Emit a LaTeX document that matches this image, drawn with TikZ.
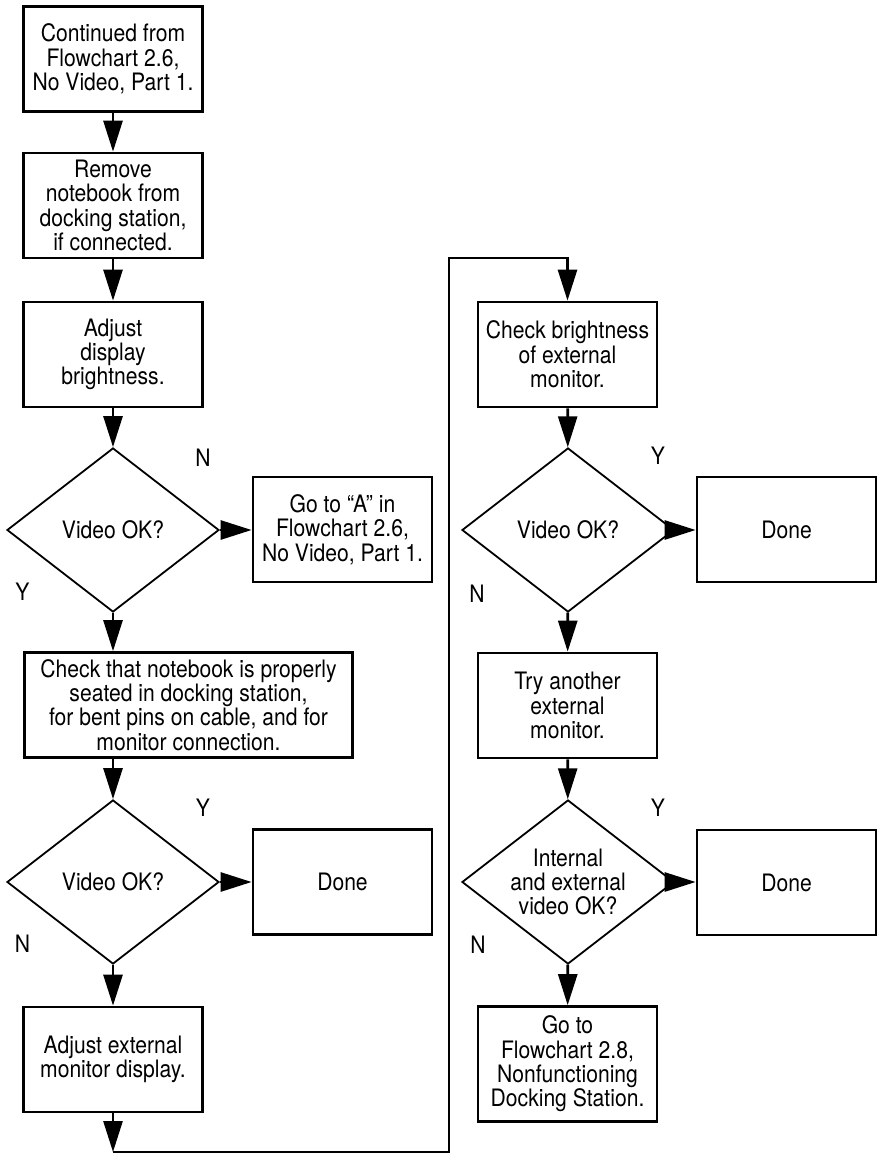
\documentclass[tikz,border=0pt]{standalone}
\usepackage{fontspec}
\setmainfont{TeX Gyre Heros}[FakeStretch=0.88]
\usetikzlibrary{arrows.meta,shapes.geometric}
\tikzset{
  txt/.style={font=\fontsize{24}{24.3}\selectfont},
  stepbox/.style={txt, draw, line width=2.7pt, align=center, inner sep=0pt, minimum width=179pt, minimum height=105pt},
  decision/.style={txt, draw, diamond, aspect=1.3, line width=1.8pt, align=center, inner sep=0pt, minimum width=212pt, minimum height=164pt},
  flow/.style={line width=2.7pt, -{Triangle[length=31pt,width=19pt]}}
}

\begin{document}
\begin{tikzpicture}[x=1pt,y=-1pt]
			%%%%% START %%%%%
			\useasboundingbox (0,0) rectangle (881,1154);
			
			% left column
			\node[stepbox] (cont) at (113,59) {Continued from\\Flowchart 2.6,\\No Video, Part 1.};
			\node[stepbox] (remove) at (113,205.5) {Remove\\notebook from\\docking station,\\if connected.};
			\node[stepbox] (adjust) at (113,354.5) {Adjust\\display\\brightness.};
			\node[decision] (dia1) at (113,530) {Video OK?};
			\node[stepbox] (goA) at (342.5,529.5) {Go to ``A'' in\\Flowchart 2.6,\\No Video, Part 1.};
			\node[stepbox, minimum width=328pt] (check) at (188.5,705) {Check that notebook is properly\\seated in docking station,\\for bent pins on cable, and for\\monitor connection.};
			\node[decision] (dia2) at (113,882) {Video OK?};
			\node[stepbox] (done1) at (342.5,882) {Done};
			\node[stepbox] (adjext) at (113,1059.5) {Adjust external\\monitor display.};
			
			% right column
			\node[stepbox] (chkbright) at (567.5,354.5) {Check brightness\\of external\\monitor.};
			\node[decision] (dia3) at (568,530) {Video OK?};
			\node[stepbox] (done2) at (786.5,529.5) {Done};
			\node[stepbox] (another) at (567.5,705.5) {Try another\\external\\monitor.};
			\node[decision] (dia4) at (568,882) {Internal\\and external\\video OK?};
			\node[stepbox] (done3) at (786.5,882.5) {Done};
			\node[stepbox, minimum height=115pt] (goto28) at (567.5,1064) {Go to\\Flowchart 2.8,\\Nonfunctioning\\Docking Station.};
			
			% Y / N labels
			\node[txt] (n1) at (203,458) {N};
			\node[txt] (y1) at (22.5,592) {Y};
			\node[txt] (y2) at (203,808) {Y};
			\node[txt] (n2) at (22.5,944) {N};
			\node[txt] (y3) at (658,456) {Y};
			\node[txt] (n3) at (477,594) {N};
			\node[txt] (y4) at (658,808) {Y};
			\node[txt] (n4) at (478,945) {N};
			
			% connectors
			\draw[flow] (cont) -- (remove);
			\draw[flow] (remove) -- (adjust);
			\draw[flow] (adjust) -- (dia1);
			\draw[flow] (dia1.east) -- (dia1.east -| goA.west);
			\draw[flow] (dia1.south) -- (dia1.south |- check.north);
			\draw[flow] (dia2.north |- check.south) -- (dia2.north);
			\draw[flow] (dia2.east) -- (dia2.east -| done1.west);
			\draw[flow] (dia2) -- (adjext);
			
			\coordinate (loopA) at (113,1152);
			\coordinate (loopB) at (449,1152);
			\coordinate (loopC) at (449,258);
			\coordinate (loopD) at (567.5,258);
			\draw[flow] (adjext) -- (loopA);
			\draw[flow] (loopA) -- (loopB) -- (loopC) -- (loopD) -- (chkbright);
			
			\draw[flow] (chkbright) -- (dia3);
			\draw[flow] (dia3.east) -- (dia3.east -| done2.west);
			\draw[flow] (dia3) -- (another);
			\draw[flow] (another) -- (dia4);
			\draw[flow] (dia4.east) -- (dia4.east -| done3.west);
			\draw[flow] (dia4) -- (goto28);
			
			%%%%% END %%%%%
\end{tikzpicture}
\end{document}
